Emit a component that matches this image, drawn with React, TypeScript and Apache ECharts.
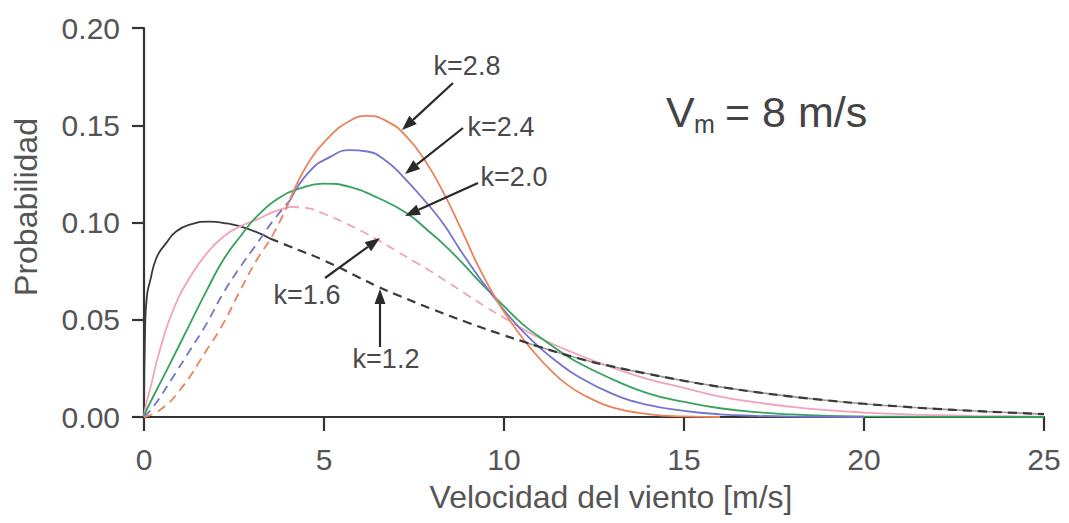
import React, { useEffect, useRef } from "react";
import * as echarts from "echarts";

// ---- data (x = wind speed m/s, y = probability) ----
const k12X = [0, 0.03, 0.08, 0.17, 0.35, 0.6, 0.9, 1.3, 1.8, 2.3, 2.85, 3.5, 4, 5, 6, 6.5, 7, 8, 9, 10, 10.5, 11, 12, 13, 14, 15, 16, 17, 18, 19, 20, 21, 22, 23, 24, 25];
const k12Y = [0, 0.045, 0.062, 0.07, 0.082, 0.089, 0.0955, 0.099, 0.1005, 0.0995, 0.097, 0.0918, 0.088, 0.0805, 0.0715, 0.067, 0.063, 0.0555, 0.0485, 0.042, 0.039, 0.036, 0.0305, 0.026, 0.0222, 0.0186, 0.0155, 0.0128, 0.0105, 0.0085, 0.0068, 0.0054, 0.0042, 0.0032, 0.0023, 0.0015];

const k16X = [0, 0.05, 0.17, 0.44, 0.81, 1.28, 1.74, 2.2, 2.67, 3.13, 3.6, 4.06, 4.5, 5, 5.5, 6, 6.5, 7, 7.5, 8, 8.5, 9, 9.5, 10, 10.5, 11, 12, 13, 14, 15, 16, 17, 18, 19, 20, 21, 22, 23, 24, 25];
const k16Y = [0, 0.006, 0.0144, 0.0344, 0.055, 0.072, 0.084, 0.0927, 0.098, 0.1015, 0.1055, 0.108, 0.1075, 0.1045, 0.1005, 0.096, 0.091, 0.0855, 0.08, 0.0745, 0.0685, 0.0625, 0.0565, 0.051, 0.0455, 0.0405, 0.0325, 0.0255, 0.0195, 0.015, 0.0105, 0.0075, 0.0052, 0.0035, 0.0023, 0.0015, 0.001, 0.0006, 0.0004, 0.0002];

const k20X = [0, 0.07, 0.63, 1.28, 1.74, 2.2, 2.67, 3.13, 3.78, 4.33, 4.98, 5.72, 6.46, 7.3, 7.94, 8.31, 8.8, 9.3, 10, 10.5, 11, 11.5, 12, 13, 14, 15, 16, 17, 18, 19, 20, 22, 25];
const k20Y = [0, 0.0036, 0.024, 0.048, 0.065, 0.0807, 0.0927, 0.103, 0.113, 0.1175, 0.12, 0.1183, 0.113, 0.1047, 0.095, 0.089, 0.08, 0.07, 0.057, 0.048, 0.041, 0.0345, 0.0285, 0.0195, 0.0122, 0.0078, 0.0045, 0.0025, 0.0013, 0.0006, 0.0003, 0.0001, 0];

const k24X = [0, 0.26, 0.81, 1.28, 1.74, 2.2, 2.67, 3.13, 3.59, 4.06, 4.61, 5.2, 5.7, 6.2, 6.7, 7.2, 7.76, 8.31, 8.78, 9.3, 10, 10.5, 11, 11.5, 12, 13, 14, 15, 16, 17, 18, 19, 20];
const k24Y = [0, 0.0053, 0.0207, 0.0344, 0.048, 0.0636, 0.077, 0.089, 0.101, 0.1115, 0.1265, 0.134, 0.1372, 0.1365, 0.132, 0.1235, 0.112, 0.0995, 0.086, 0.072, 0.055, 0.0445, 0.0355, 0.028, 0.0215, 0.012, 0.0062, 0.0032, 0.0014, 0.0006, 0.0002, 0.0001, 0];

const k28X = [0, 0.44, 1.0, 1.74, 2.2, 2.67, 3.13, 3.59, 4.06, 4.61, 5.17, 5.6, 6.2, 6.8, 7.3, 7.8, 8.3, 8.8, 9.3, 9.8, 10.3, 10.8, 11.3, 11.8, 12.3, 13, 14, 15, 16];
const k28Y = [0, 0.0036, 0.0139, 0.0344, 0.048, 0.065, 0.0807, 0.094, 0.112, 0.132, 0.1445, 0.151, 0.1548, 0.1515, 0.144, 0.132, 0.116, 0.097, 0.077, 0.06, 0.046, 0.034, 0.024, 0.016, 0.0105, 0.005, 0.0015, 0.0003, 0];

const xTickValues = [0, 5, 10, 15, 20, 25];
const yTickValues = [0, 0.05, 0.1, 0.15, 0.2];
const curveLabels = ["k=1.2", "k=1.6", "k=2.0", "k=2.4", "k=2.8"];
const xTitle = "Velocidad del viento [m/s]";
const yTitle = "Probabilidad";

const C12 = "#3a3a3a";
const C16 = "#f2a3bb";
const C20 = "#35a35c";
const C24 = "#7474cc";
const C28 = "#e8845a";
const TXT = "#555";
const FONT = "'Liberation Sans', Arial, Helvetica, sans-serif";
const DASH = [9, 6];

function seg(xs: number[], ys: number[], a: number, b: number) {
  const out: number[][] = [];
  xs.forEach((x, i) => {
    if (x >= a - 1e-9 && x <= b + 1e-9) out.push([x, ys[i]]);
  });
  return out;
}

function line(name: string, data: number[][], color: string, dashed: boolean, width = 1.8, z = 2) {
  return {
    type: "line",
    name,
    data,
    showSymbol: false,
    symbol: "none",
    smooth: 0.5,
    z,
    silent: true,
    lineStyle: { color, width, type: dashed ? DASH : "solid" },
  };
}

function arrow(x1: number, y1: number, x2: number, y2: number) {
  const dx = x2 - x1;
  const dy = y2 - y1;
  const len = Math.sqrt(dx * dx + dy * dy);
  const ux = dx / len;
  const uy = dy / len;
  const hl = 15;
  const hw = 5.5;
  const bx = x2 - ux * hl;
  const by = y2 - uy * hl;
  return [
    {
      type: "line",
      shape: { x1, y1, x2: bx, y2: by },
      style: { stroke: "#2a2a2a", lineWidth: 2.2 },
      z: 10,
    },
    {
      type: "polygon",
      shape: {
        points: [
          [x2, y2],
          [bx - uy * hw, by + ux * hw],
          [bx + uy * hw, by - ux * hw],
        ],
      },
      style: { fill: "#2a2a2a" },
      z: 10,
    },
  ];
}

function label(text: string, cx: number, cy: number) {
  return {
    type: "text",
    x: cx,
    y: cy,
    z: 11,
    style: {
      text,
      fill: "#4a4a4a",
      font: `27px ${FONT}`,
      align: "center",
      verticalAlign: "middle",
    },
  };
}

export default function App() {
  const ref = useRef<HTMLDivElement>(null);
  useEffect(() => {
    if (!ref.current) return;
    const chart = echarts.init(ref.current, undefined, { renderer: "svg" });
    const series = [
      // k = 1.2
      line(curveLabels[0], seg(k12X, k12Y, 10.5, 25), "#9a9a9a", false, 1.6, 1),
      line(curveLabels[0], seg(k12X, k12Y, 0, 3.5), C12, false),
      line(curveLabels[0], seg(k12X, k12Y, 3.5, 25), C12, true, 2.2, 3),
      // k = 1.6
      line(curveLabels[1], seg(k16X, k16Y, 0, 4.06), C16, false),
      line(curveLabels[1], seg(k16X, k16Y, 4.06, 10.5), C16, true),
      line(curveLabels[1], seg(k16X, k16Y, 10.5, 25), C16, false),
      // k = 2.0
      line(curveLabels[2], seg(k20X, k20Y, 0, 25), C20, false),
      // k = 2.4
      line(curveLabels[3], seg(k24X, k24Y, 0, 4.06), C24, true),
      line(curveLabels[3], seg(k24X, k24Y, 4.06, 25), C24, false),
      // k = 2.8
      line(curveLabels[4], seg(k28X, k28Y, 0, 4.06), C28, true),
      line(curveLabels[4], seg(k28X, k28Y, 4.06, 25), C28, false),
    ];

    const graphic: any[] = [
      ...arrow(453, 83, 402, 130),
      ...arrow(463, 128, 405, 174),
      ...arrow(478, 183, 405, 216),
      ...arrow(325, 278, 380, 238),
      ...arrow(380, 347, 380, 289),
      label(curveLabels[4], 467, 66),
      label(curveLabels[3], 501, 127),
      label(curveLabels[2], 514, 177),
      label(curveLabels[1], 307, 295),
      label(curveLabels[0], 386, 359),
      {
        type: "text",
        x: 666,
        y: 112,
        style: { text: "V", fill: "#444", font: `43px ${FONT}`, verticalAlign: "middle" },
      },
      {
        type: "text",
        x: 694,
        y: 124,
        style: { text: "m", fill: "#444", font: `25px ${FONT}`, verticalAlign: "middle" },
      },
      {
        type: "text",
        x: 725,
        y: 112,
        style: { text: "= 8 m/s", fill: "#444", font: `43px ${FONT}`, verticalAlign: "middle" },
      },
      {
        type: "text",
        x: 611,
        y: 497,
        style: { text: xTitle, fill: TXT, font: `32px ${FONT}`, align: "center", verticalAlign: "middle" },
      },
      {
        type: "text",
        x: 26,
        y: 207,
        rotation: Math.PI / 2,
        style: { text: yTitle, fill: TXT, font: `32px ${FONT}`, align: "center", verticalAlign: "middle" },
      },
    ];

    chart.setOption({
      animation: false,
      backgroundColor: "#fff",
      grid: { left: 144, right: 25, top: 28, bottom: 106, containLabel: false },
      xAxis: {
        type: "value",
        min: xTickValues[0],
        max: xTickValues[xTickValues.length - 1],
        interval: 5,
        axisLine: { show: true, onZero: false, lineStyle: { color: "#333", width: 2.2 } },
        axisTick: { show: true, length: 14, lineStyle: { color: "#333", width: 2.2 } },
        axisLabel: { fontSize: 30, color: TXT, margin: 27, fontFamily: FONT },
        splitLine: { show: false },
      },
      yAxis: {
        type: "value",
        min: yTickValues[0],
        max: yTickValues[yTickValues.length - 1],
        interval: 0.05,
        axisLine: { show: true, onZero: false, lineStyle: { color: "#333", width: 2.2 } },
        axisTick: { show: true, length: 12, lineStyle: { color: "#333", width: 2.2 } },
        axisLabel: {
          fontSize: 30,
          color: TXT,
          margin: 24,
          fontFamily: FONT,
          formatter: (v: number) => v.toFixed(2),
        },
        splitLine: { show: false },
      },
      series,
      graphic,
    } as any);
    return () => chart.dispose();
  }, []);
  return (
    <div
      ref={ref}
      style={{ position: "fixed", left: 0, top: 0, width: 1069, height: 523, background: "#fff" }}
    />
  );
}
